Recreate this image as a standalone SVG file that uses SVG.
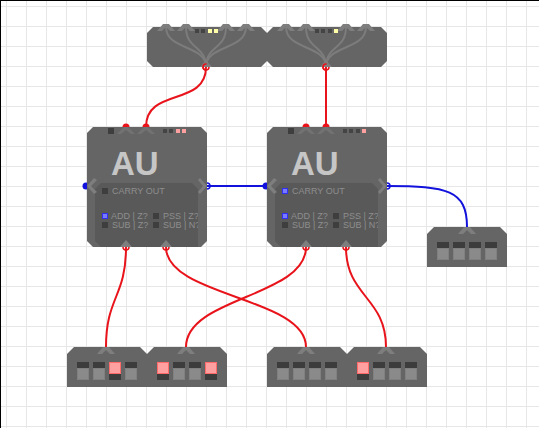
<svg xmlns="http://www.w3.org/2000/svg" width="539" height="428" viewBox="0 0 539 428">
<style>
.grid{stroke:#e7e7e7;stroke-width:1;fill:none}
.body{fill:#656565}
.panel{fill:#595959}
.w{fill:none;stroke-width:2}
.r{stroke:#e8131b}
.b{stroke:#1212dc}
.in{fill:none;stroke:#7c7c7c;stroke-width:2}
.tip{fill:#7e7e7e}
.wing{fill:#727272}
.dr{fill:#e8131b}
.db{fill:#1212dc}
.or{fill:none;stroke:#e8131b;stroke-width:1.5}
.ob{fill:none;stroke:#1212dc;stroke-width:1.5}
.off{fill:#3e3e3e}
.led{fill:#444}
.pink{fill:#ffa0a0;stroke:#ff6a6a;stroke-width:1}
.yel{fill:#ffffa8}
.blue{fill:#7a7aff;stroke:#3030ee;stroke-width:1}
.sw{fill:#8a8a8a;stroke:#808080;stroke-width:1}
.au{font:bold 33px "Liberation Sans",Arial,sans-serif;fill:#c6c6c6}
.t{font:9px "Liberation Sans",Arial,sans-serif;fill:#8e8e8e}
</style>
<defs>
<clipPath id="clipA"><rect x="87" y="180" width="111" height="67"/></clipPath>
<clipPath id="clipB"><rect x="267" y="180" width="111" height="67"/></clipPath>
<g id="swOff"><rect x="0" y="0" width="12" height="6" fill="#3c3c3c"/><rect x="0.5" y="6.5" width="11" height="11" class="sw"/></g>
<g id="swOn"><rect x="0" y="12" width="12" height="6" fill="#3c3c3c"/><rect x="0.5" y="0.5" width="11" height="11" class="pink"/></g>
<path id="tipTop" d="M-9 7 L-2 0 L2 0 L9 7 L5 7 L0 3 L-5 7Z" class="wing"/>
<path id="tipDark" d="M-9 7 L-3 0 L3 0 L9 7 L4 7 L0 3 L-4 7Z" class="tip"/>
</defs>
<rect width="539" height="428" fill="#fff"/>
<g id="grid">
<path class="grid" d="M6.5 0V428M26.5 0V428M46.5 0V428M66.5 0V428M86.5 0V428M106.5 0V428M126.5 0V428M146.5 0V428M166.5 0V428M186.5 0V428M206.5 0V428M226.5 0V428M246.5 0V428M266.5 0V428M286.5 0V428M306.5 0V428M326.5 0V428M346.5 0V428M366.5 0V428M386.5 0V428M406.5 0V428M426.5 0V428M446.5 0V428M466.5 0V428M486.5 0V428M506.5 0V428M526.5 0V428"/>
<path class="grid" d="M0 6.5H539M0 26.5H539M0 46.5H539M0 66.5H539M0 86.5H539M0 106.5H539M0 126.5H539M0 146.5H539M0 166.5H539M0 186.5H539M0 206.5H539M0 226.5H539M0 246.5H539M0 266.5H539M0 286.5H539M0 306.5H539M0 326.5H539M0 346.5H539M0 366.5H539M0 386.5H539M0 406.5H539M0 426.5H539"/>
<rect x="0" y="0" width="1" height="428" fill="#000"/>
<rect x="0" y="0" width="539" height="1" fill="#000"/>
</g>
<g id="connectors">
<path class="w r" d="M206 67C206 107 146 87 146 127"/>
<path class="w r" d="M326 67V127"/>
<path class="w b" d="M207 186H267"/>
<path class="w b" d="M387 186C447 186 467 190 467 227"/>
<path class="w r" d="M126 247C126 297 106 297 106 347"/>
<path class="w r" d="M166 247C166 297 306 297 306 347"/>
<path class="w r" d="M306 247C306 297 186 297 186 347"/>
<path class="w r" d="M346 247C346 297 386 297 386 347"/>
</g>
<g id="top1">
<circle class="or" cx="206" cy="67" r="3"/>
<path class="body" d="M153 27H261L267 33V61L261 67H153L147 61V33Z"/>
<path class="in" d="M166 27C166 50 206 45 206 67M186 27C186 50 206 45 206 67M226 27C226 50 206 45 206 67M246 27C246 50 206 45 206 67"/>
<use href="#tipDark" x="166" y="24"/><use href="#tipDark" x="186" y="24"/><use href="#tipDark" x="226" y="24"/><use href="#tipDark" x="246" y="24"/>
<path class="tip" d="M200 67L206 60L212 67Z"/>
<circle class="or" cx="206" cy="67" r="3" stroke-dasharray="9.5 9.5" stroke-dashoffset="14"/>
<rect class="led" x="195" y="29" width="4" height="4"/><rect class="led" x="201" y="29" width="4" height="4"/>
<rect class="yel" x="208" y="29" width="4" height="4"/><rect class="yel" x="214" y="29" width="4" height="4"/>
</g>
<g id="top2">
<circle class="or" cx="326" cy="67" r="3"/>
<path class="body" d="M273 27H381L387 33V61L381 67H273L267 61V33Z"/>
<path class="in" d="M286 27C286 50 326 45 326 67M306 27C306 50 326 45 326 67M346 27C346 50 326 45 326 67M366 27C366 50 326 45 326 67"/>
<use href="#tipDark" x="286" y="24"/><use href="#tipDark" x="306" y="24"/><use href="#tipDark" x="346" y="24"/><use href="#tipDark" x="366" y="24"/>
<path class="tip" d="M320 67L326 60L332 67Z"/>
<circle class="or" cx="326" cy="67" r="3" stroke-dasharray="9.5 9.5" stroke-dashoffset="14"/>
<rect class="led" x="315" y="29" width="4" height="4"/><rect class="led" x="321" y="29" width="4" height="4"/><rect class="led" x="328" y="29" width="4" height="4"/>
<rect class="yel" x="334" y="29" width="4" height="4"/>
</g>
<g id="au1">
<circle class="dr" cx="126" cy="127" r="3.5"/><circle class="dr" cx="146" cy="127" r="3.5"/>
<circle class="db" cx="86" cy="186" r="3.5"/>
<circle class="or" cx="126" cy="247" r="3"/><circle class="or" cx="166" cy="247" r="3"/>
<circle class="ob" cx="207" cy="186" r="3"/>
<path class="body" d="M93 127H201L207 133V241L201 247H93L87 241V133Z"/>
<use href="#tipTop" x="126" y="127"/><use href="#tipTop" x="146" y="127"/>
<rect class="off" x="108" y="128" width="6" height="6"/>
<rect class="led" x="163" y="129" width="4" height="4"/><rect class="led" x="169" y="129" width="4" height="4"/>
<rect x="176" y="129" width="4" height="4" fill="#ffa0a0"/><rect x="182" y="129" width="4" height="4" fill="#ffa0a0"/>
<path class="panel" d="M101 183H192L198 189V247H101L95 241V189Z"/>
<path class="tip" d="M87 186L94 178L97 180L91 186L97 192L94 194Z"/>
<path class="tip" d="M207 186L200 178L198 180L203 186L198 192L200 194Z"/>
<path class="tip" d="M120 247L126 240L132 247Z"/><path class="tip" d="M160 247L166 240L172 247Z"/>
<text class="au" x="111" y="175">AU</text>
<rect class="off" x="102" y="188" width="6" height="6"/>
<rect class="blue" x="102.500" y="213.500" width="5" height="5"/>
<rect class="off" x="102" y="222" width="6" height="6"/>
<rect class="off" x="153" y="213" width="6" height="6"/>
<rect class="off" x="153" y="222" width="6" height="6"/>
<g clip-path="url(#clipA)">
<text class="t" x="112" y="194">CARRY  OUT</text>
<text class="t" x="111" y="219">ADD | Z?</text>
<text class="t" x="112" y="228">SUB | Z?</text>
<text class="t" x="163" y="219">PSS | Z?</text>
<text class="t" x="163" y="228">SUB | N?</text>
</g>
</g>
<g id="au2">
<circle class="dr" cx="306" cy="127" r="3.5"/><circle class="dr" cx="326" cy="127" r="3.500"/>
<circle class="db" cx="266" cy="186" r="3.5"/>
<circle class="or" cx="306" cy="247" r="3"/><circle class="or" cx="346" cy="247" r="3"/>
<circle class="ob" cx="387" cy="186" r="3"/>
<path class="body" d="M273 127H381L387 133V241L381 247H273L267 241V133Z"/>
<use href="#tipTop" x="306" y="127"/><use href="#tipTop" x="326" y="127"/>
<rect class="off" x="288" y="128" width="6" height="6"/>
<rect class="led" x="343" y="129" width="4" height="4"/><rect class="led" x="349" y="129" width="4" height="4"/><rect class="led" x="356" y="129" width="4" height="4"/>
<rect x="362" y="129" width="4" height="4" fill="#ffa0a0"/>
<path class="panel" d="M281 183H372L378 189V247H281L275 241V189Z"/>
<path class="tip" d="M267 186L274 178L277 180L271 186L277 192L274 194Z"/>
<path class="tip" d="M387 186L380 178L378 180L383 186L378 192L380 194Z"/>
<path class="tip" d="M300 247L306 240L312 247Z"/><path class="tip" d="M340 247L346 240L352 247Z"/>
<text class="au" x="291" y="175">AU</text>
<rect class="blue" x="282.500" y="188.500" width="5" height="5"/>
<rect class="blue" x="282.500" y="213.500" width="5" height="5"/>
<rect class="off" x="282" y="222" width="6" height="6"/>
<rect class="off" x="333" y="213" width="6" height="6"/>
<rect class="off" x="333" y="222" width="6" height="6"/>
<g clip-path="url(#clipB)">
<text class="t" x="292" y="194">CARRY  OUT</text>
<text class="t" x="291" y="219">ADD | Z?</text>
<text class="t" x="292" y="228">SUB | Z?</text>
<text class="t" x="343" y="219">PSS | Z?</text>
<text class="t" x="343" y="228">SUB | N?</text>
</g>
</g>
<g id="in5">
<path class="body" d="M434 227H500L507 234V267H427V234Z"/>
<use href="#tipDark" x="467" y="227"/>
<use href="#swOff" x="437" y="242"/><use href="#swOff" x="453" y="242"/><use href="#swOff" x="469" y="242"/><use href="#swOff" x="485" y="242"/>
</g>
<g id="in1">
<path class="body" d="M74 347H140L147 354V387H67V354Z"/>
<use href="#tipDark" x="106" y="347"/>
<use href="#swOff" x="77" y="362"/><use href="#swOff" x="93" y="362"/><use href="#swOn" x="109" y="362"/><use href="#swOff" x="125" y="362"/>
</g>
<g id="in2">
<path class="body" d="M154 347H220L227 354V387H147V354Z"/>
<use href="#tipDark" x="186" y="347"/>
<use href="#swOn" x="157" y="362"/><use href="#swOff" x="173" y="362"/><use href="#swOff" x="189" y="362"/><use href="#swOn" x="205" y="362"/>
</g>
<g id="in3">
<path class="body" d="M274 347H340L347 354V387H267V354Z"/>
<use href="#tipDark" x="306" y="347"/>
<use href="#swOff" x="277" y="362"/><use href="#swOff" x="293" y="362"/><use href="#swOff" x="309" y="362"/><use href="#swOff" x="325" y="362"/>
</g>
<g id="in4">
<path class="body" d="M354 347H420L427 354V387H347V354Z"/>
<use href="#tipDark" x="386" y="347"/>
<use href="#swOn" x="357" y="362"/><use href="#swOff" x="373" y="362"/><use href="#swOff" x="389" y="362"/><use href="#swOff" x="405" y="362"/>
</g>
</svg>
